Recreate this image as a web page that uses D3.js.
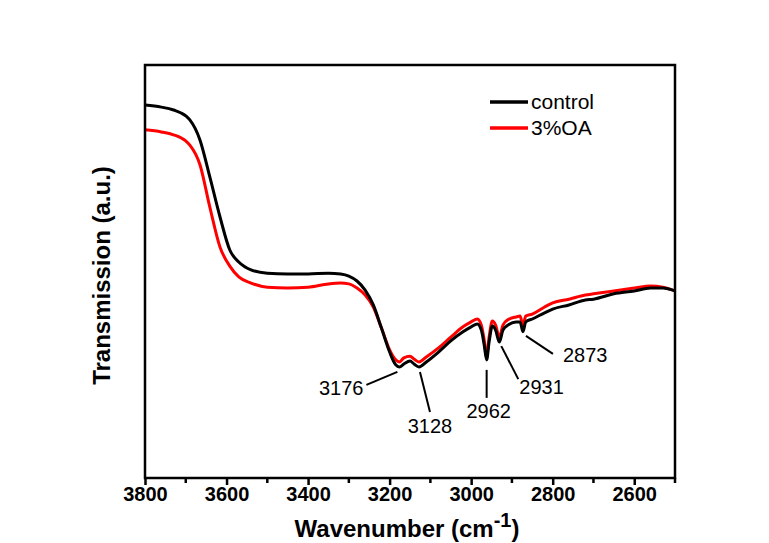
<!DOCTYPE html>
<html>
<head>
<meta charset="utf-8">
<script src="https://cdn.jsdelivr.net/npm/d3@7"></script>
<style>
	body { margin: 0; background: #fff; }
	text { font-family: "Liberation Sans", Arial, sans-serif; }
</style>
</head>
<body>
<div id="content"></div>
<script>
// spectra (wavenumber, transmission a.u.)
var wavenumbers = [3800, 3760, 3730, 3700, 3690, 3665, 3641, 3616, 3592, 3570, 3540, 3500, 3450, 3400, 3350, 3320, 3300, 3280, 3260, 3240, 3220, 3200, 3185, 3176, 3165, 3150, 3140, 3128, 3110, 3080, 3050, 3020, 3000, 2985, 2975, 2968, 2962, 2956, 2948, 2940, 2931, 2922, 2910, 2890, 2880, 2873, 2866, 2850, 2820, 2800, 2760, 2720, 2700, 2650, 2600, 2560, 2530, 2500];
var control = [90.3, 89.8, 89.1, 87.7, 86.7, 81.8, 72.9, 63.2, 55.2, 52.3, 50.4, 49.6, 49.4, 49.4, 49.6, 49.4, 48.9, 47.7, 45.5, 41.9, 36.3, 30.5, 27.4, 26.9, 27.6, 28.3, 27.6, 26.9, 28.1, 30.5, 33.2, 35.4, 36.6, 37.3, 35.8, 32.2, 28.6, 32.9, 36.8, 35.8, 32.9, 35.8, 37.0, 37.8, 37.8, 35.4, 37.8, 38.5, 40.0, 40.9, 41.9, 43.1, 43.3, 44.6, 45.3, 46.0, 46.0, 45.3];
var oa = [84.3, 83.8, 83.1, 81.6, 80.6, 75.8, 65.6, 55.9, 51.3, 48.7, 47.2, 46.2, 46.0, 46.2, 47.0, 47.2, 47.0, 46.0, 44.3, 41.4, 36.3, 31.0, 28.6, 28.1, 29.1, 29.5, 28.8, 28.1, 29.3, 31.5, 34.1, 36.6, 37.8, 38.5, 37.0, 33.4, 29.5, 34.1, 38.0, 37.0, 34.1, 37.0, 38.3, 39.0, 39.2, 37.0, 39.2, 39.7, 41.4, 42.4, 43.3, 44.3, 44.6, 45.3, 46.0, 46.5, 46.2, 45.3];
var xTicks = [3800, 3600, 3400, 3200, 3000, 2800, 2600];
var xMinor = [3700, 3500, 3300, 3100, 2900, 2700, 2500];
var peaks = [3176, 3128, 2962, 2931, 2873];
var seriesNames = ["control", "3%OA"];
var seriesColors = ["#000000", "#ff0000"];

var svg = d3.select("#content").append("svg")
	.attr("width", 769)
	.attr("height", 543);

var margin = { left: 145, right: 94, top: 65, bottom: 65 };
var width = 769 - margin.left - margin.right;
var height = 543 - margin.top - margin.bottom;

var g = svg.append("g")
	.attr("transform", `translate(${margin.left}, ${margin.top})`);

var x = d3.scaleLinear().domain([3800, 2500]).range([0, width]);
var y = d3.scaleLinear().domain([0, 100]).range([height, 0]);

var line = d3.line()
	.x(function (d) { return x(d[0]); })
	.y(function (d) { return y(d[1]); })
	.curve(d3.curveMonotoneX);

var series = [control, oa];
// draw red first so black lies on top where they meet
[1, 0].forEach(function (k) {
	g.append("path")
		.datum(wavenumbers.map(function (w, i) { return [w, series[k][i]]; }))
		.attr("fill", "none")
		.attr("stroke", seriesColors[k])
		.attr("stroke-width", 3)
		.attr("stroke-linejoin", "round")
		.attr("d", line);
});

// frame
g.append("rect")
	.attr("width", width)
	.attr("height", height)
	.attr("fill", "none")
	.attr("stroke", "#000")
	.attr("stroke-width", 2.5);

// x axis
var xAxis = g.append("g")
	.attr("transform", `translate(0, ${height})`)
	.call(d3.axisBottom(x).tickValues(xTicks).tickSize(7).tickPadding(2).tickFormat(d3.format("d")));
xAxis.select(".domain").remove();
xAxis.selectAll("line").attr("stroke-width", 2.5);
xAxis.selectAll("text")
	.attr("font-size", 20)
	.attr("font-weight", "bold")
	.attr("fill", "#000");

g.append("g")
	.attr("transform", `translate(0, ${height})`)
	.selectAll("line")
	.data(xMinor)
	.enter().append("line")
	.attr("x1", function (d) { return x(d); })
	.attr("x2", function (d) { return x(d); })
	.attr("y1", 0)
	.attr("y2", 5)
	.attr("stroke", "#000")
	.attr("stroke-width", 2.5);

// axis titles
var xTitle = svg.append("text")
	.attr("x", margin.left + width / 2 - 3)
	.attr("y", 537)
	.attr("text-anchor", "middle")
	.attr("font-size", 24)
	.attr("font-weight", "bold");
xTitle.append("tspan").text("Wavenumber (cm");
xTitle.append("tspan").attr("dy", -10).attr("font-size", 20).text("-1");
xTitle.append("tspan").attr("dy", 10).text(")");

svg.append("text")
	.attr("transform", `translate(110, ${margin.top + height / 2 + 4}) rotate(-90)`)
	.attr("text-anchor", "middle")
	.attr("font-size", 24)
	.attr("font-weight", "bold")
	.text("Transmission (a.u.)");

// legend
var legend = g.append("g").attr("transform", "translate(345, 37)");
seriesNames.forEach(function (name, i) {
	legend.append("line")
		.attr("x1", 0).attr("x2", 38)
		.attr("y1", i * 26).attr("y2", i * 26)
		.attr("stroke", seriesColors[i])
		.attr("stroke-width", 3.5);
	legend.append("text")
		.attr("x", 41)
		.attr("y", i * 26 + 7)
		.attr("font-size", 21)
		.text(name);
});

// peak annotations: leader offsets from the peak and label anchor
var ann = [
	{ dx1: -2, dy1: 5, dx2: -33, dy2: 18, tx: -36, ty: 28, anchor: "end" },
	{ dx1: 1, dy1: 5, dx2: 11, dy2: 45, tx: 11, ty: 66, anchor: "middle" },
	{ dx1: 0, dy1: 10, dx2: 0, dy2: 38, tx: 2, ty: 58, anchor: "middle" },
	{ dx1: 2, dy1: 4, dx2: 19, dy2: 37, tx: 20, ty: 52, anchor: "start" },
	{ dx1: 3, dy1: 4, dx2: 30, dy2: 22, tx: 40, ty: 30, anchor: "start" }
];
peaks.forEach(function (p, i) {
	var px = x(p);
	var py = y(control[wavenumbers.indexOf(p)]);
	var a = ann[i];
	g.append("line")
		.attr("x1", px + a.dx1).attr("y1", py + a.dy1)
		.attr("x2", px + a.dx2).attr("y2", py + a.dy2)
		.attr("stroke", "#000")
		.attr("stroke-width", 2);
	g.append("text")
		.attr("x", px + a.tx)
		.attr("y", py + a.ty)
		.attr("text-anchor", a.anchor)
		.attr("font-size", 20)
		.text(p);
});
</script>
</body>
</html>
